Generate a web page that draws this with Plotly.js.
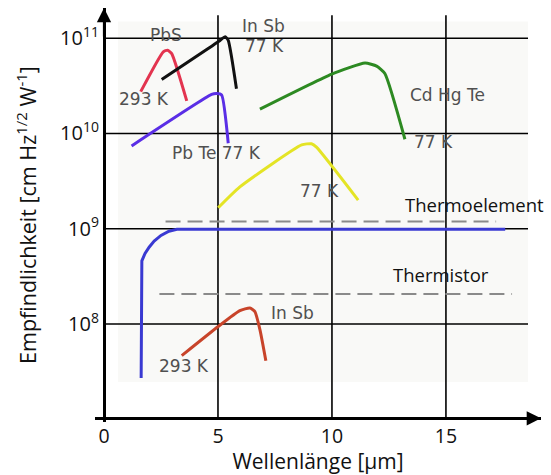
<!DOCTYPE html>
<html><head><meta charset="utf-8">
<script src="https://cdn.plot.ly/plotly-3.0.1.min.js"></script>
<style>html,body{margin:0;padding:0;background:#fff}#chart{width:551px;height:475px}</style>
</head><body><div id="chart"></div>
<script>
// ---- data (wavelength in µm, detectivity in cm Hz^1/2 W^-1) ----
const pbsX = [1.61, 2.60, 2.79, 2.97, 3.63];
const pbsY = [2.75e10, 7.2e10, 7.5e10, 6.9e10, 2.2e10];
const insb77X = [2.53, 5.09, 5.31, 5.45, 5.81];
const insb77Y = [3.7e10, 9.5e10, 1.04e11, 9.5e10, 2.95e10];
const pbteX = [1.21, 4.72, 4.94, 5.16, 5.45];
const pbteY = [7.4e9, 2.57e10, 2.63e10, 2.54e10, 7.9e9];
const cdhgteX = [6.84, 9.99, 11.45, 11.96, 12.32, 13.2];
const cdhgteY = [1.8e10, 4.2e10, 5.5e10, 5.1e10, 4.27e10, 8.7e9];
const yellowX = [5.01, 5.96, 8.67, 9.1, 9.32, 11.15];
const yellowY = [1.66e9, 2.75e9, 7.6e9, 7.8e9, 7.2e9, 2.0e9];
const thermalX = [1.63, 1.63, 1.66, 1.8, 1.98, 2.2, 2.5, 2.85, 3.2, 17.6];
const thermalY = [2.7e7, 3.8e8, 4.6e8, 5.5e8, 6.4e8, 7.4e8, 8.5e8, 9.4e8, 9.85e8, 9.85e8];
const thermoelementX = [2.7, 17.2];
const thermoelementY = [1.19e9, 1.19e9];
const thermistorX = [2.43, 17.9];
const thermistorY = [2.06e8, 2.06e8];
const insb293X = [3.41, 5.01, 5.96, 6.4, 6.62, 6.84, 7.1];
const insb293Y = [4.65e7, 9.4e7, 1.38e8, 1.47e8, 1.35e8, 8.7e7, 4.1e7];

const xTicks = [0, 5, 10, 15];
const xTickLabels = ['0', '5', '10', '15'];
const yTicks = [1e8, 1e9, 1e10, 1e11];
const yTickLabels = ['10<sup>8</sup>', '10<sup>9</sup>', '10<sup>10</sup>', '10<sup>11</sup>'];

const labelTexts = ['PbS', 'In Sb', '77 K', '293 K', 'Pb Te 77 K', 'Cd Hg Te', '77 K', '77 K', 'In Sb', '293 K'];
const bigLabelTexts = ['Thermoelement', 'Thermistor'];
const xTitle = 'Wellenlänge [µm]';
const yTitle = 'Empfindlichkeit [cm Hz<sup>1/2</sup> W<sup>-1</sup>]';

// ---- placement / style (not data) ----
const labelPos = [[2.70, 11.035], [7.0, 11.13], [7.02, 10.915], [1.75, 10.363], [4.94, 9.793],
                  [15.07, 10.405], [14.47, 9.915], [9.45, 9.40], [8.27, 8.114], [3.51, 7.561]];
const bigLabelPos = [[16.27, 9.25], [14.8, 8.516]];
const XR = [-0.395, 19.17], YR = [6.97, 11.318];
const axisYFrac = 0.0089, axisXFrac = 0.0202;

function line(x, y, color, width, dash, shape) {
  return {x: x, y: y, type: 'scatter', mode: 'lines', hoverinfo: 'skip',
          line: {color: color, width: width, dash: dash || 'solid', shape: shape || 'spline', smoothing: 0.5}};
}
const traces = [
  line(thermoelementX, thermoelementY, '#8a8a8a', 2, '15px,7px', 'linear'),
  line(thermistorX, thermistorY, '#8a8a8a', 2, '15px,7px', 'linear'),
  line(thermalX, thermalY, '#3a3ad2', 3, 'solid', 'linear'),
  line(pbsX, pbsY, '#e3344f', 3),
  line(insb77X, insb77Y, '#111111', 3),
  line(pbteX, pbteY, '#5a2ee6', 3),
  line(cdhgteX, cdhgteY, '#2d8a22', 3),
  line(yellowX, yellowY, '#e4e425', 3),
  line(insb293X, insb293Y, '#c8442a', 3)
];

const shapes = [];
shapes.push({type: 'rect', layer: 'below', xref: 'x', yref: 'y', x0: 0.61, x1: 18.6, y0: 2.45e7, y1: 1.5e11,
             fillcolor: '#f9f9f7', line: {width: 0}});
yTicks.forEach(v => shapes.push({type: 'line', layer: 'below', xref: 'x', yref: 'y', x0: 0, x1: 18.6, y0: v, y1: v,
             line: {color: '#000', width: 1.6}}));
xTicks.slice(1).forEach(v => shapes.push({type: 'line', layer: 'below', xref: 'x', yref: 'y', x0: v, x1: v, y0: 1.02e7, y1: 1.74e11,
             line: {color: '#000', width: 1.6}}));

const annotations = [];
labelTexts.forEach((t, i) => annotations.push({text: t, x: labelPos[i][0], y: labelPos[i][1], xref: 'x', yref: 'y',
  showarrow: false, font: {family: 'DejaVu Sans', size: 17, color: '#505050'}}));
bigLabelTexts.forEach((t, i) => annotations.push({text: t, x: bigLabelPos[i][0], y: bigLabelPos[i][1], xref: 'x', yref: 'y',
  showarrow: false, font: {family: 'Open Sans', size: 18.5, color: '#111'}}));
annotations.push({text: '', x: 1, xref: 'paper', y: axisYFrac, yref: 'paper', ax: -30, ay: 0,
  showarrow: true, arrowhead: 2, arrowsize: 1.3, arrowwidth: 2.2, arrowcolor: '#000'});
annotations.push({text: '', x: 0, xref: 'x', y: 1, yref: 'paper', ax: 0, ay: 30,
  showarrow: true, arrowhead: 2, arrowsize: 1.3, arrowwidth: 2.2, arrowcolor: '#000'});

const layout = {
  width: 551, height: 475,
  margin: {l: 95, r: 10, t: 8, b: 53},
  paper_bgcolor: '#fff', plot_bgcolor: 'rgba(0,0,0,0)',
  showlegend: false,
  font: {family: 'Open Sans', color: '#111'},
  xaxis: {range: XR, anchor: 'free', position: axisYFrac, showline: true, linecolor: '#000', linewidth: 2.5,
          showgrid: false, zeroline: false, tickmode: 'array', tickvals: xTicks, ticktext: xTickLabels, ticks: '',
          tickfont: {family: 'Open Sans', size: 19.5, color: '#111'},
          title: {text: xTitle, font: {family: 'Open Sans', size: 21, color: '#111'}, standoff: 5}},
  yaxis: {type: 'log', range: YR, anchor: 'free', position: axisXFrac, showline: true, linecolor: '#000', linewidth: 2.5,
          showgrid: false, zeroline: false, tickmode: 'array', tickvals: yTicks, ticktext: yTickLabels, ticks: '',
          tickfont: {family: 'Open Sans', size: 20, color: '#111'},
          title: {text: yTitle, font: {family: 'Open Sans', size: 21.5, color: '#111'}, standoff: 16}},
  shapes: shapes,
  annotations: annotations
};
Plotly.newPlot('chart', traces, layout, {staticPlot: true, displayModeBar: false});
</script></body></html>
